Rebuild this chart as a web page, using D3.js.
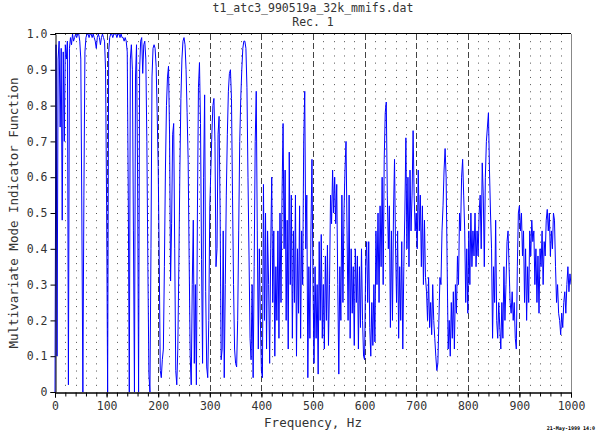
<!DOCTYPE html>
<html>
<head>
<meta charset="utf-8">
<script src="https://cdn.jsdelivr.net/npm/d3@7"></script>
<style>
  body { margin: 0; background: #fff; }
  svg { display: block; font-family: 'DejaVu Sans Mono', monospace; }
</style>
</head>
<body>
<div id="chart"></div>
<script>
let width = 596
let height = 434
let margin = { left: 55, right: 25, top: 34, bottom: 42 }

const titleText = 't1_atc3_990519a_32k_mmifs.dat'
const subTitle = 'Rec. 1'
const xLabel = 'Frequency, Hz'
const yLabel = 'Multivariate Mode Indicator Function'
const stamp = '21-May-1999 14:0'

const xTicks = [0, 100, 200, 300, 400, 500, 600, 700, 800, 900, 1000]
const yTicks = [0, 0.1, 0.2, 0.3, 0.4, 0.5, 0.6, 0.7, 0.8, 0.9, 1.0]
const freqStep = 2 // Hz between spectral lines

// MIF values, one list per 100 Hz band (2 Hz spacing)
const mif000 = [0.00, 0.97, 0.10, 0.93, 0.98, 0.74, 0.96, 0.48, 0.95, 0.70,
  0.97, 0.93, 0.98, 0.02, 0.96, 0.99, 0.97, 1.00, 0.98, 0.99,
  1.00, 0.99, 1.00, 1.00, 0.98, 0.93, 0.50, 0.00, 0.55, 0.95,
  0.99, 1.00, 1.00, 0.99, 1.00, 1.00, 0.99, 1.00, 0.99, 0.98,
  0.96, 0.99, 1.00, 0.99, 0.97, 0.99, 1.00, 0.99, 0.98, 0.90]
const mif100 = [0.52, 0.00, 0.95, 0.99, 1.00, 1.00, 0.99, 1.00, 1.00, 1.00,
  0.99, 1.00, 1.00, 0.99, 1.00, 0.99, 0.99, 0.98, 0.99, 0.98,
  0.95, 0.55, 0.00, 0.93, 0.97, 0.90, 0.45, 0.00, 0.88, 0.97,
  0.62, 0.00, 0.90, 0.98, 0.99, 0.89, 0.97, 0.98, 0.93, 0.70,
  0.35, 0.05, 0.00, 0.40, 0.88, 0.96, 0.97, 0.96, 0.91, 0.78]
const mif200 = [0.63, 0.37, 0.06, 0.04, 0.09, 0.12, 0.35, 0.62, 0.80, 0.88,
  0.91, 0.72, 0.31, 0.47, 0.72, 0.75, 0.40, 0.06, 0.02, 0.12,
  0.35, 0.62, 0.82, 0.93, 0.98, 0.99, 0.97, 0.90, 0.78, 0.65,
  0.37, 0.10, 0.02, 0.30, 0.48, 0.08, 0.30, 0.02, 0.50, 0.85,
  0.92, 0.75, 0.37, 0.08, 0.60, 0.83, 0.28, 0.07, 0.04, 0.20]
const mif300 = [0.52, 0.62, 0.72, 0.80, 0.82, 0.70, 0.35, 0.40, 0.72, 0.77,
  0.50, 0.09, 0.12, 0.45, 0.04, 0.30, 0.55, 0.72, 0.84, 0.89,
  0.90, 0.82, 0.55, 0.30, 0.12, 0.08, 0.07, 0.20, 0.45, 0.70,
  0.82, 0.90, 0.96, 0.98, 0.98, 0.96, 0.85, 0.60, 0.38, 0.15,
  0.09, 0.30, 0.04, 0.35, 0.70, 0.84, 0.45, 0.12, 0.40, 0.20]
const mif400 = [0.06, 0.04, 0.58, 0.20, 0.50, 0.12, 0.45, 0.30, 0.08, 0.40,
  0.60, 0.25, 0.45, 0.10, 0.35, 0.20, 0.45, 0.15, 0.50, 0.25,
  0.55, 0.75, 0.40, 0.62, 0.20, 0.48, 0.12, 0.67, 0.30, 0.55,
  0.15, 0.45, 0.25, 0.55, 0.10, 0.40, 0.22, 0.52, 0.15, 0.45,
  0.30, 0.70, 0.84, 0.40, 0.55, 0.04, 0.35, 0.15, 0.45, 0.65]
const mif500 = [0.30, 0.08, 0.35, 0.15, 0.30, 0.05, 0.42, 0.20, 0.44, 0.15,
  0.30, 0.12, 0.38, 0.20, 0.41, 0.13, 0.30, 0.55, 0.47, 0.62,
  0.50, 0.60, 0.47, 0.58, 0.30, 0.05, 0.35, 0.20, 0.55, 0.25,
  0.50, 0.62, 0.70, 0.45, 0.20, 0.55, 0.15, 0.40, 0.22, 0.35,
  0.13, 0.40, 0.25, 0.38, 0.12, 0.35, 0.18, 0.40, 0.20, 0.10]
const mif600 = [0.09, 0.35, 0.42, 0.25, 0.42, 0.18, 0.10, 0.25, 0.13, 0.30,
  0.14, 0.45, 0.30, 0.50, 0.25, 0.52, 0.35, 0.60, 0.30, 0.65,
  0.78, 0.81, 0.55, 0.40, 0.52, 0.18, 0.45, 0.20, 0.50, 0.65,
  0.40, 0.25, 0.45, 0.15, 0.35, 0.20, 0.42, 0.12, 0.35, 0.50,
  0.71, 0.40, 0.60, 0.35, 0.62, 0.45, 0.55, 0.73, 0.55, 0.45]
const mif700 = [0.50, 0.40, 0.62, 0.45, 0.55, 0.35, 0.52, 0.30, 0.48, 0.32,
  0.28, 0.20, 0.32, 0.18, 0.25, 0.16, 0.30, 0.20, 0.15, 0.10,
  0.06, 0.08, 0.20, 0.32, 0.30, 0.45, 0.52, 0.62, 0.68, 0.60,
  0.35, 0.12, 0.20, 0.10, 0.25, 0.15, 0.28, 0.12, 0.30, 0.22,
  0.38, 0.30, 0.50, 0.45, 0.60, 0.65, 0.55, 0.45, 0.25, 0.40]
const mif800 = [0.22, 0.45, 0.30, 0.50, 0.35, 0.45, 0.38, 0.50, 0.35, 0.45,
  0.38, 0.50, 0.55, 0.40, 0.64, 0.55, 0.35, 0.60, 0.70, 0.74,
  0.78, 0.62, 0.50, 0.40, 0.15, 0.35, 0.25, 0.48, 0.20, 0.15,
  0.25, 0.18, 0.12, 0.25, 0.15, 0.35, 0.20, 0.30, 0.42, 0.45,
  0.35, 0.25, 0.22, 0.28, 0.20, 0.25, 0.15, 0.12, 0.35, 0.50]
const mif900 = [0.52, 0.45, 0.50, 0.38, 0.45, 0.25, 0.40, 0.20, 0.35, 0.25,
  0.45, 0.38, 0.48, 0.42, 0.45, 0.30, 0.40, 0.25, 0.38, 0.22,
  0.40, 0.35, 0.45, 0.30, 0.42, 0.38, 0.48, 0.51, 0.45, 0.50,
  0.38, 0.45, 0.40, 0.50, 0.48, 0.35, 0.25, 0.30, 0.22, 0.20,
  0.16, 0.22, 0.18, 0.25, 0.28, 0.22, 0.30, 0.35, 0.28, 0.33,
  0.30]

let mif = [].concat(mif000, mif100, mif200, mif300, mif400, mif500, mif600, mif700, mif800, mif900)
let data = mif.map((v, i) => ({ freq: i * freqStep, value: v }))

let svg = d3.select('#chart')
  .append('svg')
  .attr('width', width)
  .attr('height', height)

let xScale = d3.scaleLinear()
  .domain([0, 1000])
  .range([margin.left, width - margin.right])

let yScale = d3.scaleLinear()
  .domain([0, 1])
  .range([height - margin.bottom, margin.top])

let crisp = (v) => Math.round(v) + 0.5
let minorTicks = d3.range(0, 1001, 20)

// dotted grid every 20 Hz, dashed every 100 Hz
svg.append('g')
  .selectAll('line')
  .data(minorTicks.filter(d => d % 100 !== 0))
  .enter()
  .append('line')
  .attr('x1', d => crisp(xScale(d)))
  .attr('x2', d => crisp(xScale(d)))
  .attr('y1', yScale(1))
  .attr('y2', yScale(0))
  .attr('stroke', '#555')
  .attr('stroke-dasharray', '1,6.16')

svg.append('g')
  .selectAll('line')
  .data(xTicks.filter(d => d > 0 && d < 1000))
  .enter()
  .append('line')
  .attr('x1', d => crisp(xScale(d)))
  .attr('x2', d => crisp(xScale(d)))
  .attr('y1', yScale(1))
  .attr('y2', yScale(0))
  .attr('stroke', '#444')
  .attr('stroke-dasharray', '6,3')

// the MIF curve
let line = d3.line()
  .x(d => xScale(d.freq))
  .y(d => yScale(d.value))

svg.append('path')
  .datum(data)
  .attr('fill', 'none')
  .attr('stroke', '#0000ff')
  .attr('stroke-width', 1)
  .attr('d', line)

// frame: top black, right grey
svg.append('line')
  .attr('x1', margin.left).attr('x2', width - margin.right)
  .attr('y1', crisp(yScale(1)) - 1).attr('y2', crisp(yScale(1)) - 1)
  .attr('stroke', '#000')
svg.append('line')
  .attr('x1', crisp(xScale(1000))).attr('x2', crisp(xScale(1000)))
  .attr('y1', yScale(1)).attr('y2', yScale(0))
  .attr('stroke', '#888')

// axes
let xMinor = d3.axisBottom(xScale)
  .tickValues(minorTicks)
  .tickSize(4)
  .tickFormat('')

let xAxis = d3.axisBottom(xScale)
  .tickValues(xTicks)
  .tickSize(5)
  .tickPadding(4)
  .tickFormat(d3.format('d'))

let yAxis = d3.axisLeft(yScale)
  .tickValues(yTicks)
  .tickSize(5)
  .tickPadding(3)
  .tickFormat(d => d === 0 ? '0' : d.toFixed(1))

svg.append('g')
  .attr('transform', `translate(0,${crisp(yScale(0))})`)
  .call(xMinor)

svg.append('g')
  .attr('class', 'x axis')
  .attr('transform', `translate(0,${crisp(yScale(0))})`)
  .call(xAxis)

svg.append('g')
  .attr('class', 'y axis')
  .attr('transform', `translate(${crisp(xScale(0))},0)`)
  .call(yAxis)

svg.selectAll('.domain').attr('stroke', '#000')
svg.selectAll('.tick line').attr('stroke', '#000')
svg.selectAll('.tick text')
  .attr('fill', '#333')
  .style('font-family', "'DejaVu Sans Mono', monospace")
  .style('font-size', '11.5px')

// texts
let midX = (xScale(0) + xScale(1000)) / 2

svg.append('text')
  .attr('x', midX)
  .attr('y', 12)
  .attr('text-anchor', 'middle')
  .attr('fill', '#333')
  .style('font-size', '11.5px')
  .text(titleText)

svg.append('text')
  .attr('x', midX)
  .attr('y', 26)
  .attr('text-anchor', 'middle')
  .attr('fill', '#333')
  .style('font-size', '11.5px')
  .text(subTitle)

svg.append('text')
  .attr('x', midX)
  .attr('y', 427)
  .attr('text-anchor', 'middle')
  .attr('fill', '#333')
  .style('font-size', '12.5px')
  .text(xLabel)

svg.append('text')
  .attr('transform', `translate(18,${(yScale(0) + yScale(1)) / 2}) rotate(-90)`)
  .attr('text-anchor', 'middle')
  .attr('fill', '#333')
  .style('font-size', '12.5px')
  .text(yLabel)

svg.append('text')
  .attr('x', 595)
  .attr('y', 430)
  .attr('text-anchor', 'end')
  .attr('fill', '#000')
  .style('font-size', '5px')
  .style('font-weight', 'bold')
  .text(stamp)
</script>
</body>
</html>
